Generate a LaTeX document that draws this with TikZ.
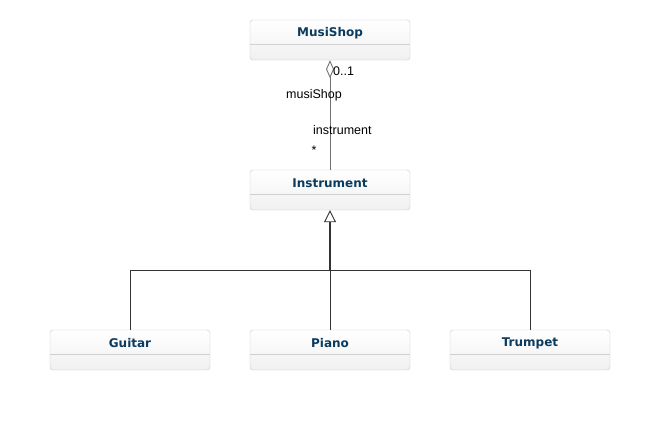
\documentclass[tikz,border=0pt]{standalone}
\usepackage{fontspec}
\setmainfont{Liberation Sans}
\newfontfamily\classfont{DejaVu Sans}
\usetikzlibrary{arrows.meta}
\definecolor{namecol}{HTML}{0B3B5E}
\definecolor{boxline}{HTML}{C4C4C4}
\definecolor{boxfill}{HTML}{F0F0F0}
\definecolor{assoc}{HTML}{707070}

\begin{document}
\begin{tikzpicture}[x=1pt,y=-1pt,
    classbox/.style={draw=boxline, top color=white, bottom color=boxfill, rounded corners=3pt,
      minimum width=160pt, minimum height=40pt, inner sep=0pt},
    classname/.style={font=\classfont\bfseries\fontsize{12}{14}\selectfont, text=namecol, anchor=center},
    rolelabel/.style={font=\fontsize{12.5}{14}\selectfont, inner sep=0pt},
    assocline/.style={draw=assoc, line width=0.9pt},
    genline/.style={draw=black!80, line width=0.9pt}]
   \useasboundingbox (0,0) rectangle (660,420);

   % classes
   \node[classbox] (musi) at (330,40) {};
   \node[classbox] (instr) at (330,190) {};
   \node[classbox] (guitar) at (130,350) {};
   \node[classbox] (piano) at (330,350) {};
   \node[classbox] (trumpet) at (530,350) {};
   \foreach \c/\t in {musi/MusiShop, instr/Instrument, guitar/Guitar, piano/Piano, trumpet/Trumpet} {
     \draw[draw=boxline!80, line width=0.8pt] ([yshift=-25pt]\c.north west) -- ([yshift=-25pt]\c.north east);
     \node[classname] (\c-name) at ([yshift=-13.5pt]\c.north) {\t};
   }

   % association
   \draw[assocline, {Diamond[open,width=8pt,length=18pt]}-] (musi.south) -- (instr.north);
   \node[rolelabel, anchor=west] (mult1) at (333,71) {0..1};
   \node[rolelabel] (role1) at (314,95) {musiShop};
   \node[rolelabel, anchor=west] (role2) at (313,130) {instrument};
   \node[rolelabel] (mult2) at (314,150) {*};

   % generalization
   \coordinate (join) at (330,270);
   \draw[genline, line width=1.2pt, -{Triangle[open,width=12pt,length=12pt,line width=0.9pt]}] (join) -- (instr.south);
   \draw[genline] (guitar.north) |- (join);
   \draw[genline] (trumpet.north) |- (join);
   \draw[genline] (piano.north) -- (join);
\end{tikzpicture}
\end{document}
